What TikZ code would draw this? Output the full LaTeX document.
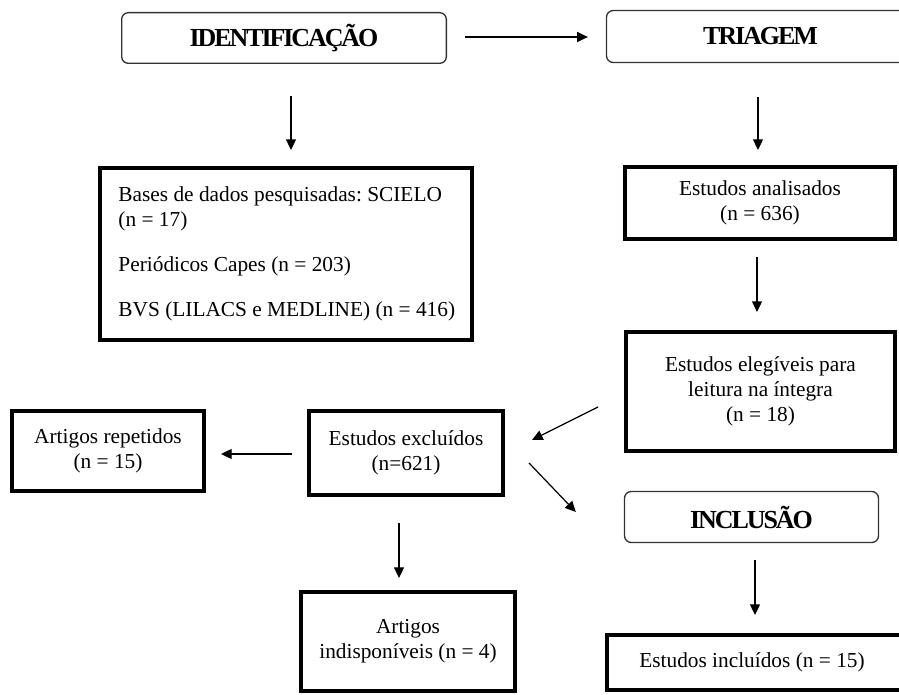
\documentclass[tikz,border=0pt]{standalone}
\usepackage{fontspec}
\setmainfont{Liberation Serif}
\usetikzlibrary{arrows.meta,calc}

\tikzset{every picture/.style={line width=0.75pt}}
\tikzset{
	caixa/.style={draw, line width=3pt, align=center, inner sep=2pt, font=\fontsize{16}{18.75}\selectfont\frenchspacing},
	etapa/.style={draw=black!80, line width=1pt, rounded corners=5pt, font=\fontsize{19.5}{22}\selectfont\bfseries\addfontfeature{LetterSpace=-8}},
	seta/.style={line width=0.9pt, -{Triangle[length=8pt,width=7.5pt]}}}

\begin{document}
\begin{tikzpicture}[x=0.75pt,y=0.75pt,yscale=-1,xscale=1]
	\useasboundingbox (0,0) rectangle (899,695);
	\clip (0,0) rectangle (899,695);

	%Rounded Rect [etapas]
	\draw (284,38) node [etapa, minimum width=243.5pt, minimum height=38pt] (ident) {IDENTIFICAÇÃO};
	\draw (760.5,36.5) node [etapa, minimum width=231pt, minimum height=39pt] (triagem) {TRIAGEM};
	\draw (751.5,517) node [etapa, minimum width=190.5pt, minimum height=38.25pt] (inclusao) {INCLUSÃO};

	%Shape: Rectangle [bases]
	\draw (285.5,254) node [caixa, align=left, minimum width=279pt, minimum height=129pt] (bases) {\hspace*{2pt}Bases de dados pesquisadas: SCIELO\\\hspace*{2pt}(n = 17)\\[15pt]\hspace*{2pt}Periódicos Capes (n = 203)\\[15pt]\hspace*{2pt}BVS (LILACS e MEDLINE) (n = 416)};
	%Shape: Rectangle [triagem]
	\draw (760,203) node [caixa, minimum width=202.5pt, minimum height=54pt] (analisados) {Estudos analisados\\(n = 636)};
	\draw (760.5,391.5) node [caixa, minimum width=201.75pt, minimum height=89.25pt] (elegiveis) {Estudos elegíveis para\\leitura na íntegra\\(n = 18)};
	%Shape: Rectangle [exclusao]
	\draw (406,453) node [caixa, minimum width=145.5pt, minimum height=63pt] (excluidos) {Estudos excluídos\\(n=621)};
	\draw (108,451) node [caixa, minimum width=144pt, minimum height=60pt] (repetidos) {Artigos repetidos\\(n = 15)};
	\draw (408,641.5) node [caixa, minimum width=160.5pt, minimum height=74.25pt] (indisp) {Artigos\\indisponíveis (n = 4)};
	%Shape: Rectangle [inclusao]
	\draw (756,662.5) node [caixa, minimum width=224pt, minimum height=41.25pt] (incluidos) {\hspace*{-6pt}Estudos incluídos (n = 15)};

	%Straight Lines [setas]
	\draw [seta] ($(ident.east)+(18,-1)$) -- ($(triagem.west)+(-18,0.5)$);
	\draw [seta] ($(ident.south)+(7,32)$) -- ($(bases.north)+(5.5,-16)$);
	\draw [seta] ($(triagem.south)+(-2.5,34)$) -- ($(analisados.north)+(-2,-15)$);
	\draw [seta] ($(analisados.south)+(-3,16)$) -- ($(elegiveis.north)+(-3.5,-18)$);
	\draw [seta] ($(elegiveis.west)+(-26,15.5)$) -- ($(excluidos.east)+(27,-13)$);
	\draw [seta] ($(excluidos.west)+(-15,1)$) -- ($(repetidos.east)+(15,3)$);
	\draw [seta] ($(excluidos.east)+(24,10)$) -- ($(inclusao.west)+(-48,-5)$);
	\draw [seta] ($(excluidos.south)+(-7,26)$) -- ($(indisp.north)+(-9,-12)$);
	\draw [seta] ($(inclusao.south)+(3.5,17)$) -- ($(incluidos.north)+(-1,-18)$);

\end{tikzpicture}
\end{document}
